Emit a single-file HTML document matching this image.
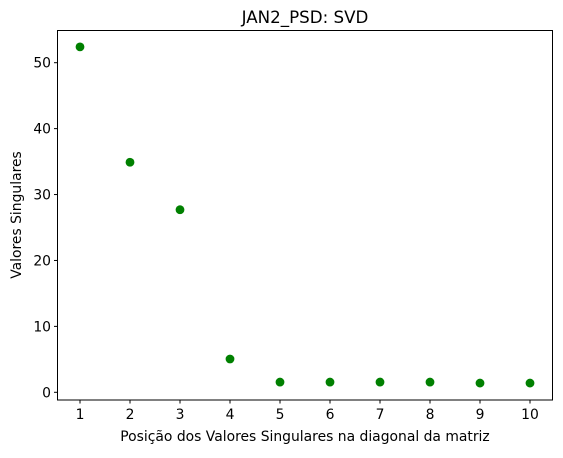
<!DOCTYPE html>
<html><head><meta charset="utf-8"><style>
body{margin:0;background:#fff;}
svg text{font-family:"DejaVu Sans","Liberation Sans",sans-serif;fill:#000;}
</style></head><body>
<svg id="chart" width="563" height="453">
<text x="305" y="23" font-size="16.7" text-anchor="middle">JAN2_PSD: SVD</text>
<g id="ticks"></g>
<g id="pts"></g>
<rect x="57.5" y="30.5" width="495" height="369.5" fill="none" stroke="#000" stroke-width="1"/>
<text x="305" y="441" font-size="13.9" text-anchor="middle">Posição dos Valores Singulares na diagonal da matriz</text>
<text x="0" y="0" font-size="13.9" text-anchor="middle" transform="translate(21,215) rotate(-90)">Valores Singulares</text>
</svg>
<script>
const positions=[1,2,3,4,5,6,7,8,9,10];
const values=[52.4,34.9,27.7,5.05,1.55,1.55,1.55,1.55,1.4,1.4];
const yTicks=[0,10,20,30,40,50];
const xTicks=[1,2,3,4,5,6,7,8,9,10];
const ns="http://www.w3.org/2000/svg";
function sx(v){return 80+(v-1)*50;}
function sy(v){return 392.3-v*6.592;}
const tg=document.getElementById('ticks'),pg=document.getElementById('pts');
function mk(tag,attrs,parent){const e=document.createElementNS(ns,tag);for(const k in attrs)e.setAttribute(k,attrs[k]);parent.appendChild(e);return e;}
xTicks.forEach(t=>{
 const l=mk('line',{x1:sx(t),x2:sx(t),y1:400,y2:403.5,stroke:'#000'},tg);
 
 
 const tx=mk('text',{x:sx(t),y:419,'font-size':13.9,'text-anchor':'middle'},tg);tx.textContent=t;
 
 
});
yTicks.forEach(t=>{
 const l=mk('line',{x1:54,x2:57.5,y1:sy(t),y2:sy(t),stroke:'#000'},tg);
 
 
 const tx=mk('text',{x:51,y:sy(t)+5,'font-size':13.9,'text-anchor':'end'},tg);tx.textContent=t;
 
 
});
positions.forEach((p,i)=>{
 const c=mk('circle',{cx:sx(p),cy:sy(values[i]),r:4.4,fill:'#008000'},pg);
 
 
});
</script>
</body></html>
